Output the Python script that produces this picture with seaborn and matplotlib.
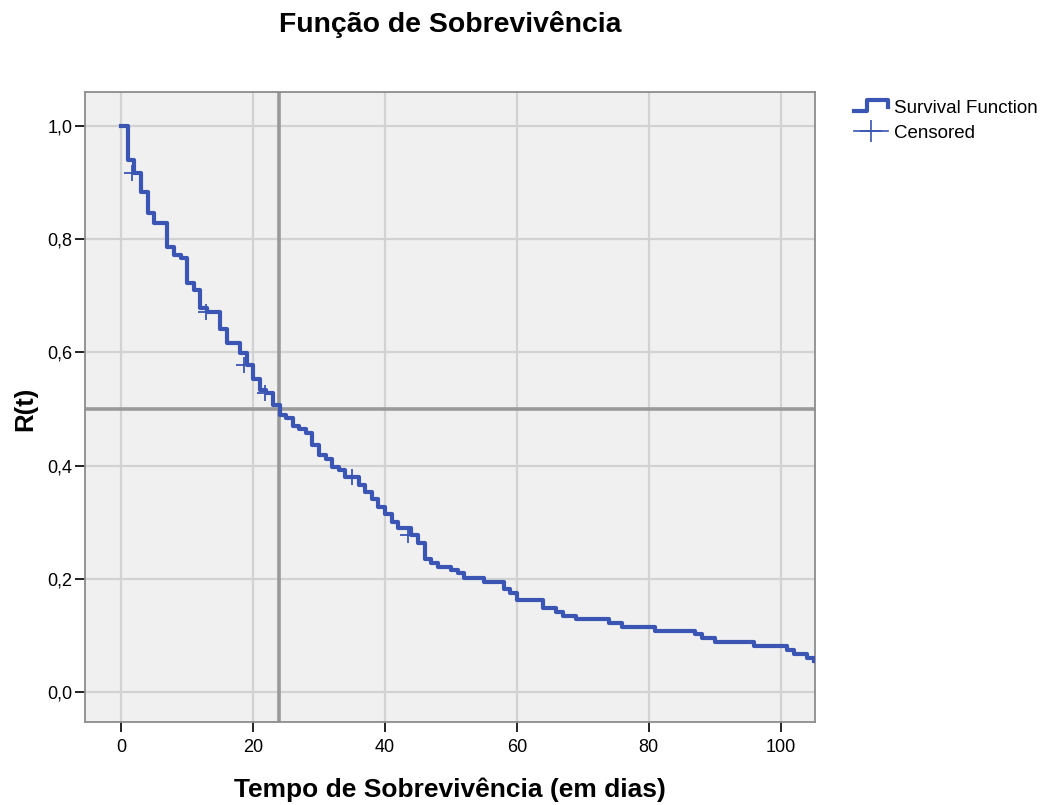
import matplotlib
matplotlib.use("Agg")
import matplotlib.pyplot as plt
from matplotlib.lines import Line2D
from matplotlib.legend_handler import HandlerBase
from matplotlib.ticker import FuncFormatter
import seaborn as sns
import pandas as pd

# dados (Kaplan-Meier)
tempo = [0, 1, 2, 3, 4, 5, 7, 8, 9, 10, 11, 12, 13, 15, 16, 18, 19, 20, 21, 22,
         23, 24, 25, 26, 27, 28, 29, 30, 31, 32, 33, 34, 36, 37, 38, 39, 40, 41,
         42, 44, 45, 46, 47, 48, 50, 51, 52, 55, 58, 59, 60, 64, 66, 67, 69, 74,
         76, 81, 87, 88, 90, 96, 101, 102, 104, 105]
sobrev = [1.000, 0.940, 0.917, 0.883, 0.846, 0.828, 0.786, 0.772, 0.767, 0.723,
          0.710, 0.678, 0.672, 0.641, 0.617, 0.599, 0.578, 0.553, 0.534, 0.528,
          0.507, 0.489, 0.484, 0.470, 0.465, 0.457, 0.436, 0.418, 0.411, 0.398,
          0.392, 0.380, 0.366, 0.353, 0.341, 0.327, 0.315, 0.300, 0.290, 0.277,
          0.263, 0.235, 0.228, 0.221, 0.216, 0.210, 0.201, 0.194, 0.183, 0.175,
          0.162, 0.148, 0.141, 0.134, 0.129, 0.122, 0.115, 0.108, 0.102, 0.095,
          0.088, 0.081, 0.074, 0.068, 0.061, 0.055]
cens_tempo = [1.7, 12.8, 18.6, 21.8, 35.0, 43.5]
cens_sobrev = [0.917, 0.672, 0.578, 0.528, 0.380, 0.277]
mediana = 23.9
ref_y = 0.5

azul = "#3a55b4"
df = pd.DataFrame({"t": tempo, "S": sobrev})
df_c = pd.DataFrame({"t": cens_tempo, "S": cens_sobrev})

plt.rcParams["font.family"] = ["Liberation Sans", "DejaVu Sans"]

fig = plt.figure(figsize=(10.45, 8.05), dpi=100)
ax = fig.add_axes([0.0813, 0.103, 0.6986, 0.7826])
ax.set_facecolor("#f0f0f0")
ax.grid(True, color="#d2d2d2", lw=1.6)
ax.set_axisbelow(True)

ax.axvline(mediana, color="#9a9a9a", lw=2.6, zorder=1.5)
ax.axhline(ref_y, color="#9a9a9a", lw=2.6, zorder=1.5)

sns.lineplot(data=df, x="t", y="S", drawstyle="steps-post", color=azul, lw=3,
             ax=ax, zorder=3)
sns.scatterplot(data=df_c, x="t", y="S", marker="+", s=120, color=azul,
                linewidth=1.3, ax=ax, zorder=4)

ax.set_xlim(-5.5, 105.2)
ax.set_ylim(-0.053, 1.06)
ax.set_xticks([0, 20, 40, 60, 80, 100])
ax.set_yticks([0, 0.2, 0.4, 0.6, 0.8, 1.0])
ax.yaxis.set_major_formatter(FuncFormatter(lambda v, p: f"{v:.1f}".replace(".", ",")))
ax.tick_params(labelsize=13, length=7.5, width=1.3, color="#111111", pad=1.5)
ax.tick_params(axis="x", pad=5)
for s in ax.spines.values():
    s.set_color("#8c8c8c")
    s.set_linewidth(1.3)

ax.set_xlabel("")
ax.set_ylabel("")
fig.text(0.4306, 0.019, "Tempo de Sobrevivência (em dias)", fontsize=19,
         fontweight="bold", ha="center", va="center")
fig.text(0.024, 0.492, "R(t)", fontsize=18.5, fontweight="bold", rotation=90,
         ha="center", va="center")
fig.text(0.4306, 0.969, "Função de Sobrevivência", fontsize=20.4, fontweight="bold",
         ha="center", va="center")


class StepHandler(HandlerBase):
    def create_artists(self, legend, orig_handle, xdescent, ydescent, width, height, fontsize, trans):
        x0 = -xdescent
        xs = [x0, x0 + 0.4 * width, x0 + 0.4 * width, x0 + width, x0 + width]
        ys = [0.15 * height, 0.15 * height, 0.95 * height, 0.95 * height, 0.45 * height]
        ln = Line2D(xs, ys, color=azul, lw=3, transform=trans)
        return [ln]


h_step = Line2D([], [], color=azul, lw=3)
h_cens = Line2D([], [], color=azul, lw=1.2, marker="+", markersize=16, markeredgewidth=1.2)
fig.legend([h_step, h_cens], ["Survival Function", "Censored"],
           handler_map={h_step: StepHandler()}, loc="upper left",
           bbox_to_anchor=(0.801, 0.897), frameon=False, fontsize=13.5,
           numpoints=1, handlelength=1.8, handletextpad=0.35, labelspacing=0.4)

fig.savefig("out.png", dpi=100)
